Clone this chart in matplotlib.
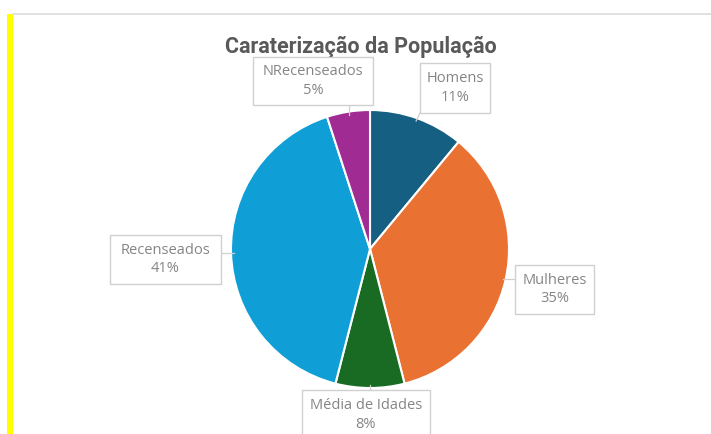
import matplotlib
matplotlib.use("Agg")
import matplotlib.pyplot as plt
from matplotlib.patches import Rectangle
import numpy as np

categories = ["Homens", "Mulheres", "Média de Idades", "Recenseados", "NRecenseados"]
values = [11, 35, 8, 41, 5]
colors = ["#156082", "#E97132", "#196B24", "#0F9ED5", "#A02B93"]
title = "Caraterização da População"

W, H = 711, 434
fig = plt.figure(figsize=(W / 100, H / 100), dpi=100)
fig.patch.set_facecolor("white")

# yellow bar and top border
fig.patches.append(Rectangle((7 / W, 0), 6 / W, (H - 14) / H, transform=fig.transFigure,
                             facecolor="#FFFF00", edgecolor="none", zorder=0))
fig.lines.append(plt.Line2D([13 / W, 1], [(H - 13.5) / H, (H - 13.5) / H], transform=fig.transFigure,
                            color="#DCDCDC", lw=1.2))

ax = fig.add_axes([0, 0, 1, 1])
cx, cy, r = 370, H - 249, 139
wedges, _ = ax.pie(values, colors=colors, startangle=90, counterclock=False,
                   center=(cx, cy), radius=r, frame=True,
                   wedgeprops=dict(edgecolor="white", linewidth=1.5))
ax.set_xlim(0, W)
ax.set_ylim(0, H)
ax.set_aspect("equal")
ax.axis("off")

ax.text(361, H - 47, title, ha="center", va="center", fontsize=15.5, fontweight="bold",
        color="#595959", family="Roboto")

# label boxes (pixel coords, top-left origin): x0, y0, x1, y1
boxes = [(420, 63, 490, 113), (515, 265, 594, 314), (302, 390, 430, 440),
         (110, 235, 221, 284), (253, 57, 373, 105)]
for w, name, v, (x0, y0, x1, y1) in zip(wedges, categories, values, boxes):
    ang = np.deg2rad((w.theta1 + w.theta2) / 2)
    ex, ey = cx + (r - 3) * np.cos(ang), cy + (r - 3) * np.sin(ang)
    bx, by = (x0 + x1) / 2, H - (y0 + y1) / 2
    px = min(max(ex, x0), x1)
    py = min(max(ey, H - y1), H - y0)
    ax.plot([px, ex], [py, ey], color="#D0D0D0", lw=0.9, zorder=1)
    ax.add_patch(Rectangle((x0, H - y1), x1 - x0, y1 - y0, facecolor="white",
                           edgecolor="#D0D0D0", lw=1, zorder=3))
    ax.text(bx, by, f"{name}\n{v}%", ha="center", va="center", fontsize=10.5,
            color="#858585", family="Open Sans", linespacing=1.3, zorder=4)

fig.savefig("out.png", dpi=100)
